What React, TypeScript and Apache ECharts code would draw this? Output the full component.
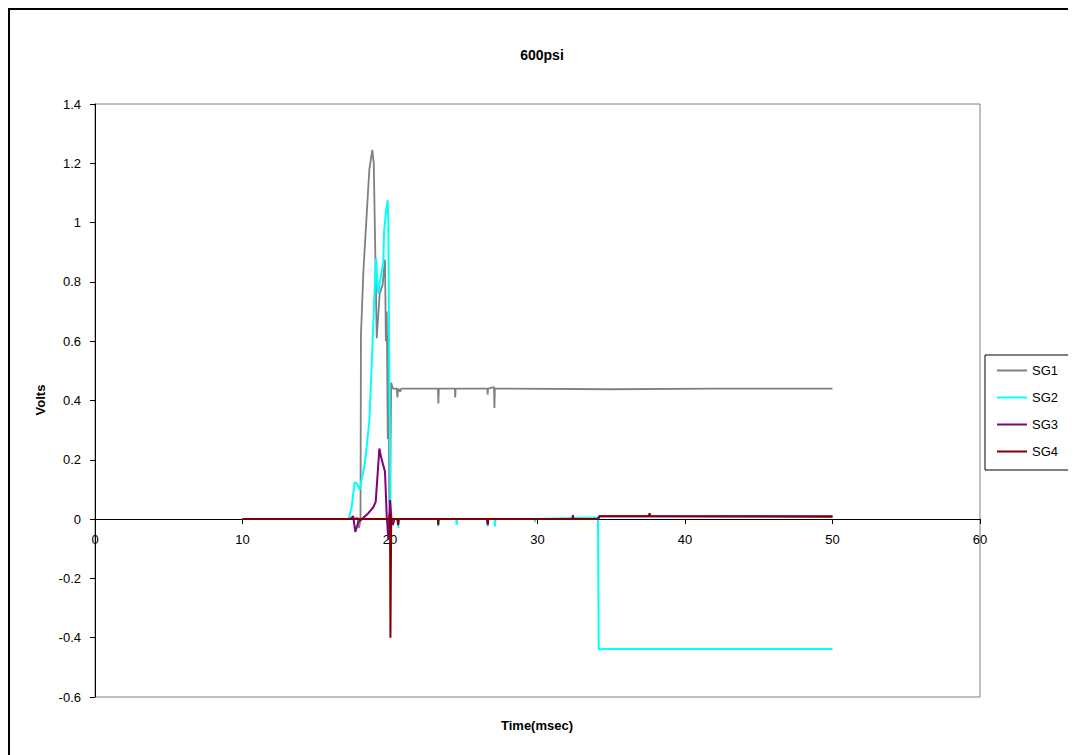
import React, { useEffect, useRef } from "react";
import * as echarts from "echarts";

const seriesNames = ["SG1", "SG2", "SG3", "SG4"];
const seriesColors = ["#808080", "#00FFFF", "#800080", "#800000"];

const sg1: [number, number][] = [
  [10, 0], [17.5, 0], [17.8, 0.005], [17.9, -0.03], [18.0, 0.0], [18.03, 0.62], [18.2, 0.84],
  [18.6, 1.18], [18.8, 1.245], [18.9, 1.2], [19.1, 0.61], [19.3, 0.76], [19.5, 0.79],
  [19.66, 0.875], [19.72, 0.6], [19.78, 0.7], [19.85, 0.27], [19.9, 0.62], [19.95, 0.06],
  [20.0, 0.03], [20.08, 0.46], [20.2, 0.44], [20.45, 0.44], [20.5, 0.41], [20.55, 0.44],
  [20.7, 0.43], [20.75, 0.44], [23.25, 0.44], [23.28, 0.39], [23.31, 0.44], [24.4, 0.44],
  [24.42, 0.41], [24.45, 0.44], [26.6, 0.44], [26.62, 0.42], [26.65, 0.44], [27.05, 0.445],
  [27.08, 0.375], [27.11, 0.44], [35, 0.438], [42, 0.44], [50, 0.44],
];

const sg2: [number, number][] = [
  [10, 0], [17.2, 0], [17.4, 0.04], [17.6, 0.125], [17.75, 0.12], [17.95, 0.1], [18.3, 0.19],
  [18.6, 0.33], [18.76, 0.52], [18.94, 0.75], [19.05, 0.88], [19.2, 0.76], [19.55, 0.87],
  [19.6, 0.97], [19.73, 1.04], [19.84, 1.075], [19.89, 1.0], [19.95, 0.5], [20.05, 0.0],
  [20.1, -0.02], [20.2, 0.0], [20.55, 0], [20.57, -0.03], [20.6, 0], [23.25, 0],
  [23.27, -0.025], [23.3, 0], [24.5, 0], [24.52, -0.02], [24.55, 0], [26.6, 0],
  [26.62, -0.025], [26.65, 0], [27.1, 0], [27.12, -0.025], [27.15, 0], [29.8, 0],
  [29.82, -0.01], [29.85, 0], [34.1, 0.005], [34.15, -0.44], [34.5, -0.438], [50, -0.438],
];

const sg3: [number, number][] = [
  [10, 0], [17.3, 0], [17.5, 0.01], [17.65, -0.043], [17.85, -0.01], [18.1, 0], [18.53, 0.02],
  [18.87, 0.04], [19.03, 0.058], [19.28, 0.238], [19.39, 0.21], [19.66, 0.16], [19.78, 0.008],
  [19.89, -0.07], [20.0, 0.064], [20.1, 0], [20.2, -0.02], [20.3, 0], [26.6, 0],
  [26.63, -0.02], [26.66, 0], [32.35, 0], [32.4, 0.013], [32.45, 0], [34.1, 0], [34.2, 0.01],
  [50, 0.01],
];

const sg4: [number, number][] = [
  [10, 0], [19.95, 0], [20.0, 0.02], [20.03, -0.4], [20.08, 0], [20.5, 0], [20.55, -0.02],
  [20.6, 0], [23.25, 0], [23.27, -0.02], [23.3, 0], [26.6, 0], [26.62, -0.015], [26.65, 0],
  [34.1, 0], [34.2, 0.01], [37.55, 0.01], [37.6, 0.02], [37.65, 0.01], [50, 0.008],
];

const allSeries = [sg1, sg2, sg3, sg4];

const FONT = "Liberation Sans, Arial, sans-serif";

export default function App() {
  const ref = useRef<HTMLDivElement>(null);
  useEffect(() => {
    if (!ref.current) return;
    const chart = echarts.init(ref.current, null, { renderer: "svg" });
    chart.setOption({
      animation: false,
      backgroundColor: "#ffffff",
      title: {
        text: "600psi",
        left: 527,
        top: 33,
        textAlign: "center",
        textStyle: { fontFamily: FONT, fontSize: 14, fontWeight: "bold", color: "#000" },
      },
      legend: {
        orient: "vertical",
        left: 975,
        top: 345,
        padding: [8, 12, 11, 12],
        itemGap: 12,
        itemWidth: 30,
        itemHeight: 2,
        icon: "rect",
        borderColor: "#000",
        borderWidth: 1,
        data: seriesNames,
        textStyle: { fontFamily: FONT, fontSize: 13, color: "#000", lineHeight: 15, height: 15 },
      },
      grid: {
        left: 85,
        top: 94,
        width: 885,
        height: 593,
        show: true,
        borderColor: "#808080",
        borderWidth: 1,
        backgroundColor: "transparent",
      },
      xAxis: {
        type: "value",
        min: 0,
        max: 60,
        interval: 10,
        position: "bottom",
        offset: -178,
        axisLine: { onZero: false, lineStyle: { color: "#000", width: 1 } },
        axisTick: { show: true, inside: false, length: 5, lineStyle: { color: "#000" } },
        axisLabel: { fontFamily: FONT, fontSize: 13, color: "#000", margin: 14 },
        splitLine: { show: false },
      },
      yAxis: {
        type: "value",
        min: -0.6,
        max: 1.4,
        interval: 0.2,
        axisLine: { show: true, onZero: false, lineStyle: { color: "#000", width: 1 } },
        axisTick: { show: true, inside: false, length: 5, lineStyle: { color: "#000" } },
        axisLabel: { fontFamily: FONT, fontSize: 13, color: "#000", margin: 14 },
        splitLine: { show: false },
      },
      graphic: [
        {
          type: "text",
          x: 30,
          y: 390,
          rotation: Math.PI / 2,
          style: {
            text: "Volts",
            fontFamily: FONT,
            fontSize: 13,
            fontWeight: "bold",
            fill: "#000",
            align: "center",
            verticalAlign: "middle",
          },
        },
        {
          type: "text",
          x: 527,
          y: 715,
          style: {
            text: "Time(msec)",
            fontFamily: FONT,
            fontSize: 13,
            fontWeight: "bold",
            fill: "#000",
            align: "center",
            verticalAlign: "middle",
          },
        },
      ],
      series: allSeries.map((d, i) => ({
        name: seriesNames[i],
        type: "line",
        data: d,
        showSymbol: false,
        symbol: "none",
        color: seriesColors[i],
        lineStyle: { color: seriesColors[i], width: i === 0 ? 1.8 : 2 },
        z: 2 + i,
      })),
    });
    return () => chart.dispose();
  }, []);
  return (
    <div
      style={{
        width: 1066,
        height: 745,
        borderTop: "2px solid #000",
        borderLeft: "2px solid #000",
      }}
    >
      <div ref={ref} style={{ width: 1066, height: 745 }} />
    </div>
  );
}
